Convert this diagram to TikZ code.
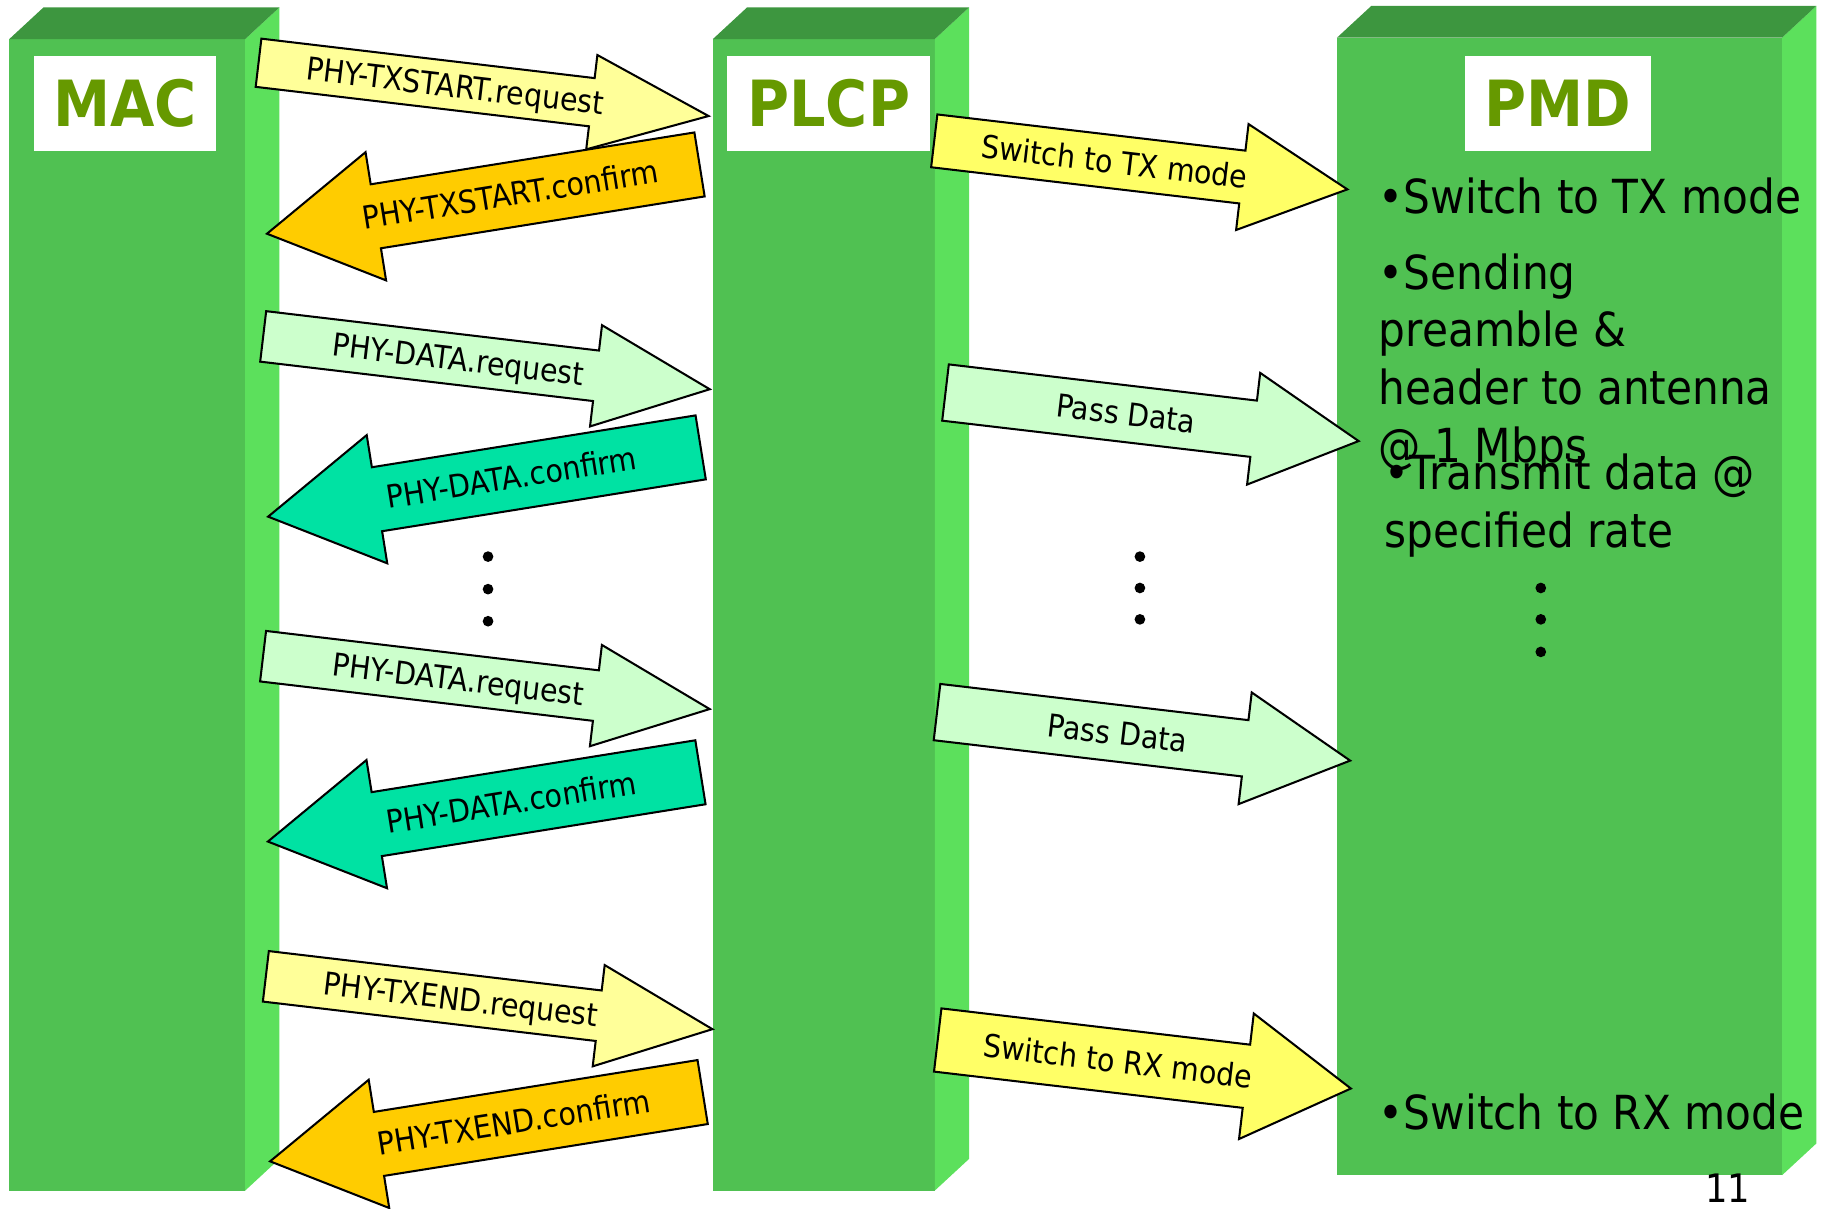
\documentclass[tikz,border=0pt]{standalone}
\usepackage{fontspec}
\setmainfont{DejaVu Sans}[FakeStretch=0.9]
\usetikzlibrary{shapes.arrows,calc}

\definecolor{frontgreen}{RGB}{80,193,82}
\definecolor{sidegreen}{RGB}{92,224,92}
\definecolor{topgreen}{RGB}{61,150,63}
\definecolor{titlegreen}{RGB}{102,153,0}
\definecolor{reqyellow}{RGB}{255,255,153}
\definecolor{cnforange}{RGB}{255,204,0}
\definecolor{datamint}{RGB}{204,255,204}
\definecolor{datateal}{RGB}{0,226,163}
\definecolor{modeyellow}{RGB}{255,255,102}

\def\depthx{29.5}
\def\depthy{-27.3}

\begin{document}
\begin{tikzpicture}[x=0.1mm, y=-0.1mm,
  front/.style = {fill=frontgreen, inner sep=0, outer sep=0, anchor=north west},
  titlebox/.style = {fill=white, inner sep=0, outer sep=0, anchor=north, minimum height=8.2mm, text=titlegreen, font=\fontsize{15.6}{18}\selectfont\bfseries},
  msg/.style = {single arrow, draw=black, line width=0.5pt, inner xsep=0, outer sep=0, anchor=tail, single arrow head indent=0},
  msgright/.style = {msg, inner ysep=2.1mm, single arrow head extend=2.2mm, single arrow tip angle=48, minimum height=38.7mm, rotate=-6.75},
  msgleft/.style = {msg, inner ysep=2.7mm, single arrow head extend=2.8mm, single arrow tip angle=61, minimum height=37.7mm, rotate=189.1},
  modearrow/.style = {msg, minimum height=35.8mm, rotate=-6.7},
  passarrow/.style = {modearrow, fill=datamint, inner ysep=2.35mm, single arrow head extend=2.4mm, single arrow tip angle=56},
  lbl/.style = {inner sep=0, text height=1.96mm, text depth=0mm, font=\fontsize{7.75}{9}\selectfont},
  pmdtext/.style = {inner sep=0, anchor=base west, align=left, font=\fontsize{11.5}{14.1}\selectfont}
]
\useasboundingbox (0,0) rectangle (1568,1040);

% pillars: front face as node, then side and top
\node[front, minimum width=20.3mm, minimum height=99.1mm] (mac) at (8,33.6) {};
\node[front, minimum width=19.1mm, minimum height=99.1mm] (plcp) at (613.5,33.6) {};
\node[front, minimum width=38.3mm, minimum height=97.9mm] (pmd) at (1150.6,32.4) {};
\foreach \p in {mac,plcp,pmd}
{
    \fill[sidegreen] (\p.north east) -- ++(\depthx,\depthy) -- ($(\p.south east)+(\depthx,\depthy)$) -- (\p.south east) -- cycle; %side
    \fill[topgreen] (\p.north west) -- ++(\depthx,\depthy) -- ($(\p.north east)+(\depthx,\depthy)$) -- (\p.north east) -- cycle; %top
}

\node[titlebox, minimum width=15.7mm] (mactitle) at (107.6,48.2) {MAC};
\node[titlebox, minimum width=17.5mm] (plcptitle) at (713.2,48.2) {PLCP};
\node[titlebox, minimum width=16mm] (pmdtitle) at (1340.4,48.2) {PMD};

% MAC <-> PLCP
\node[msgright, fill=reqyellow, inner ysep=2mm, single arrow head extend=2mm, single arrow tip angle=44, minimum height=39mm] (txreq) at (222.5,54) {};
\node[msgleft, fill=cnforange] (txcnf) at (602,141.5) {};
\node[msgright, fill=datamint] (datareqa) at (226.5,289.5) {};
\node[msgleft, fill=datateal] (datacnfa) at (603,385) {};
\node[msgright, fill=datamint] (datareqb) at (226.4,564.7) {};
\node[msgleft, fill=datateal] (datacnfb) at (602.8,664.6) {};
\node[msgright, fill=reqyellow] (endreq) at (228.8,840.2) {};
\node[msgleft, fill=cnforange] (endcnf) at (604.7,939.8) {};

\node[lbl, rotate=-6.75] (txreqlbl) at ($(txreq.tail)!0.437!(txreq.tip)$) {PHY-TXSTART.request};
\node[lbl, rotate=9.1] (txcnflbl) at ($(txcnf.tail)!0.437!(txcnf.tip)$) {PHY-TXSTART.confirm};
\node[lbl, rotate=-6.75] (datareqalbl) at ($(datareqa.tail)!0.437!(datareqa.tip)$) {PHY-DATA.request};
\node[lbl, rotate=9.1] (datacnfalbl) at ($(datacnfa.tail)!0.437!(datacnfa.tip)$) {PHY-DATA.confirm};
\node[lbl, rotate=-6.75] (datareqblbl) at ($(datareqb.tail)!0.437!(datareqb.tip)$) {PHY-DATA.request};
\node[lbl, rotate=9.1] (datacnfblbl) at ($(datacnfb.tail)!0.437!(datacnfb.tip)$) {PHY-DATA.confirm};
\node[lbl, rotate=-6.75] (endreqlbl) at ($(endreq.tail)!0.437!(endreq.tip)$) {PHY-TXEND.request};
\node[lbl, rotate=9.1] (endcnflbl) at ($(endcnf.tail)!0.437!(endcnf.tip)$) {PHY-TXEND.confirm};

% PLCP -> PMD
\node[modearrow, fill=modeyellow, inner ysep=2.2mm, single arrow head extend=2.3mm, single arrow tip angle=53.5] (txmode) at (804,121.2) {};
\node[passarrow] (passa) at (813.7,337.8) {};
\node[passarrow] (passb) at (806.4,612.8) {};
\node[modearrow, fill=modeyellow, inner ysep=2.65mm, single arrow head extend=2.7mm, single arrow tip angle=62] (rxmode) at (807,895) {};

\node[lbl, rotate=-6.7] (txmodelbl) at ($(txmode.tail)!0.437!(txmode.tip)$) {Switch to TX mode};
\node[lbl, rotate=-6.7] (passalbl) at ($(passa.tail)!0.437!(passa.tip)$) {Pass Data};
\node[lbl, rotate=-6.7] (passblbl) at ($(passb.tail)!0.437!(passb.tip)$) {Pass Data};
\node[lbl, rotate=-6.7] (rxmodelbl) at ($(rxmode.tail)!0.437!(rxmode.tip)$) {Switch to RX mode};

% dots
\foreach \y in {479,507,534.6} \fill (420,\y) circle (0.46mm);
\foreach \y in {479,506,533} \fill (981,\y) circle (0.46mm);
\foreach \y in {506,533,561} \fill (1326,\y) circle (0.46mm);

% PMD text (base = last line)
\node[pmdtext] (pmdtx) at (1186,184) {•Switch to TX mode};
\node[pmdtext] (pmdsend) at (1186,397.6) {•Sending\\preamble \&\\header to antenna\\@ 1 Mbps};
\node[pmdtext] (pmddata) at (1191,471) {•Transmit data @\\specified rate};
\node[pmdtext] (pmdrx) at (1186,972) {•Switch to RX mode};

\node[inner sep=0, anchor=base, font=\fontsize{9.6}{11}\selectfont] (pagenum) at (1487,1035) {11};
\end{tikzpicture}
\end{document}
